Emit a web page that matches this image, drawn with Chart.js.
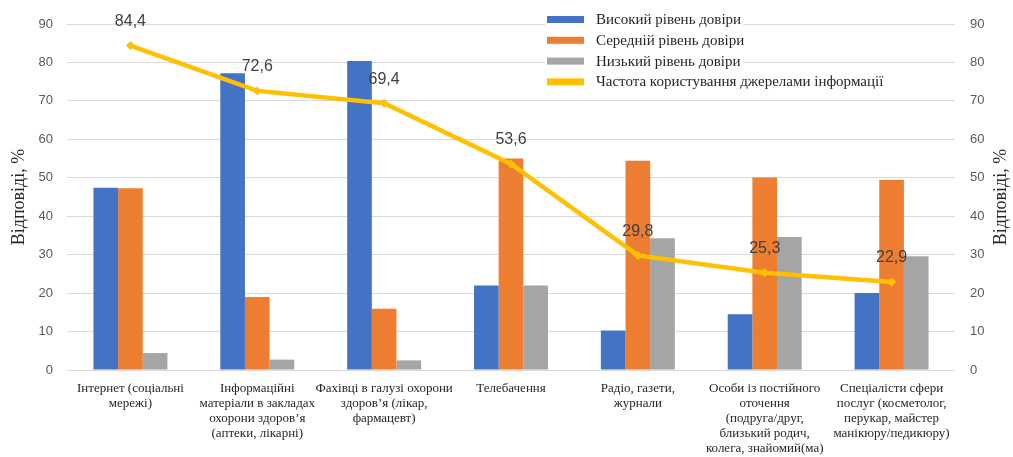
<!DOCTYPE html>
<html lang="uk">
<head>
<meta charset="utf-8">
<title>Довіра до джерел інформації</title>
<script src="https://cdn.jsdelivr.net/npm/chart.js@4.4.1/dist/chart.umd.min.js"></script>
<style>
  html, body { margin: 0; padding: 0; background: #ffffff; }
  #wrap { width: 1013px; height: 457px; position: relative; }
</style>
</head>
<body>
<div id="wrap"><canvas id="chart" width="1013" height="457"></canvas></div>
<script>
// Джерела інформації (підписи категорій, по рядках)
const categories = [
  ["Інтернет (соціальні", "мережі)"],
  ["Інформаційні", "матеріали в закладах", "охорони здоров’я", "(аптеки, лікарні)"],
  ["Фахівці в галузі охорони", "здоров’я (лікар,", "фармацевт)"],
  ["Телебачення"],
  ["Радіо, газети,", "журнали"],
  ["Особи із постійного", "оточення", "(подруга/друг,", "близький родич,", "колега, знайомий(ма)"],
  ["Спеціалісти сфери", "послуг (косметолог,", "перукар, майстер", "манікюру/педикюру)"]
];

// Рівні довіри, % відповідей
const highTrust   = [47.4, 77.2, 80.4, 22.0, 10.3, 14.5, 20.0];
const mediumTrust = [47.3, 19.0, 15.9, 55.0, 54.4, 50.1, 49.4];
const lowTrust    = [ 4.4,  2.7,  2.5, 22.0, 34.3, 34.6, 29.6];

// Частота користування джерелами, %
const usageFrequency = [84.4, 72.6, 69.4, 53.6, 29.8, 25.3, 22.9];

const seriesNames = [
  "Високий рівень довіри",
  "Середній рівень довіри",
  "Низький рівень довіри",
  "Частота користування джерелами інформації"
];
const seriesColors = ["#4472C4", "#ED7D31", "#A5A5A5", "#FFC000"];

const axisTitle = "Відповіді, %";
const axisMin = 0, axisMax = 90, axisStep = 10;

const serif = "'Liberation Serif', 'DejaVu Serif', serif";
const sans = "'Liberation Sans', Arial, sans-serif";

// Легенда у верхній правій частині області графіка
const legendPlugin = {
  id: "insideLegend",
  beforeDatasetsDraw(chart) {
    const ctx = chart.ctx;
    const x0 = 547, y0 = 19, rowH = 20.8;
    ctx.save();
    ctx.font = "15px " + serif;
    ctx.textBaseline = "middle";
    seriesNames.forEach((name, i) => {
      const cy = y0 + i * rowH;
      const w = ctx.measureText(name).width;
      ctx.fillStyle = "#ffffff";
      ctx.fillRect(x0 - 2, cy - 9, 49 + w + 4, 18);
      ctx.fillStyle = seriesColors[i];
      ctx.fillRect(x0, cy - 3, 37, 7);
      ctx.fillStyle = "#262626";
      ctx.fillText(name, x0 + 49, cy + 1);
    });
    ctx.restore();
  }
};

// Назва правої осі, повернута так само, як і ліва (знизу вгору)
const rightTitlePlugin = {
  id: "rightTitle",
  afterDraw(chart) {
    const ctx = chart.ctx;
    const area = chart.chartArea;
    ctx.save();
    ctx.translate(1001, (area.top + area.bottom) / 2);
    ctx.rotate(-Math.PI / 2);
    ctx.font = "18px " + serif;
    ctx.fillStyle = "#262626";
    ctx.textAlign = "center";
    ctx.textBaseline = "middle";
    ctx.fillText(axisTitle, 0, 0);
    ctx.restore();
  }
};

// Значення над точками лінії
const lineLabelPlugin = {
  id: "lineLabels",
  afterDatasetsDraw(chart) {
    const ctx = chart.ctx;
    const meta = chart.getDatasetMeta(3);
    ctx.save();
    ctx.font = "16px " + sans;
    ctx.fillStyle = "#404040";
    ctx.textAlign = "center";
    ctx.textBaseline = "middle";
    meta.data.forEach((pt, i) => {
      const txt = String(usageFrequency[i]).replace(".", ",");
      ctx.fillText(txt, pt.x, pt.y - 24);
    });
    ctx.restore();
  }
};

const barCommon = { categoryPercentage: 0.583, barPercentage: 1.0, borderWidth: 0, yAxisID: "y", order: 2 };

new Chart(document.getElementById("chart"), {
  type: "bar",
  data: {
    labels: categories,
    datasets: [
      Object.assign({ label: seriesNames[0], data: highTrust, backgroundColor: seriesColors[0] }, barCommon),
      Object.assign({ label: seriesNames[1], data: mediumTrust, backgroundColor: seriesColors[1] }, barCommon),
      Object.assign({ label: seriesNames[2], data: lowTrust, backgroundColor: seriesColors[2] }, barCommon),
      {
        type: "line",
        label: seriesNames[3],
        data: usageFrequency,
        borderColor: seriesColors[3],
        backgroundColor: seriesColors[3],
        borderWidth: 4.5,
        pointStyle: "rectRot",
        pointRadius: 4.5,
        pointBorderWidth: 0,
        tension: 0,
        yAxisID: "y",
        order: 1
      }
    ]
  },
  options: {
    responsive: false,
    animation: false,
    layout: { padding: { top: 24, left: 0, right: 0, bottom: 0 } },
    plugins: {
      legend: { display: false },
      tooltip: { enabled: false }
    },
    scales: {
      x: {
        grid: { display: false, drawTicks: false },
        border: { display: false },
        ticks: {
          color: "#262626",
          font: { family: serif, size: 13, lineHeight: 1.15 },
          padding: 11,
          maxRotation: 0,
          autoSkip: false
        },
        afterFit(s) { s.height = 87; }
      },
      y: {
        position: "left",
        min: axisMin, max: axisMax,
        grid: { color: "#D9D9D9", lineWidth: 1, drawTicks: false },
        border: { display: false },
        ticks: {
          stepSize: axisStep,
          color: "#595959",
          font: { family: sans, size: 13 },
          padding: 14
        },
        title: {
          display: true,
          text: axisTitle,
          color: "#262626",
          font: { family: serif, size: 18 },
          padding: { top: 8, bottom: 0 }
        },
        afterFit(s) { s.width = 67; }
      },
      y2: {
        position: "right",
        min: axisMin, max: axisMax,
        grid: { display: false, drawTicks: false },
        border: { display: false },
        ticks: {
          stepSize: axisStep,
          color: "#595959",
          font: { family: sans, size: 13 },
          padding: 15
        },
        afterFit(s) { s.width = 58; }
      }
    }
  },
  plugins: [legendPlugin, lineLabelPlugin, rightTitlePlugin]
});
</script>
</body>
</html>
